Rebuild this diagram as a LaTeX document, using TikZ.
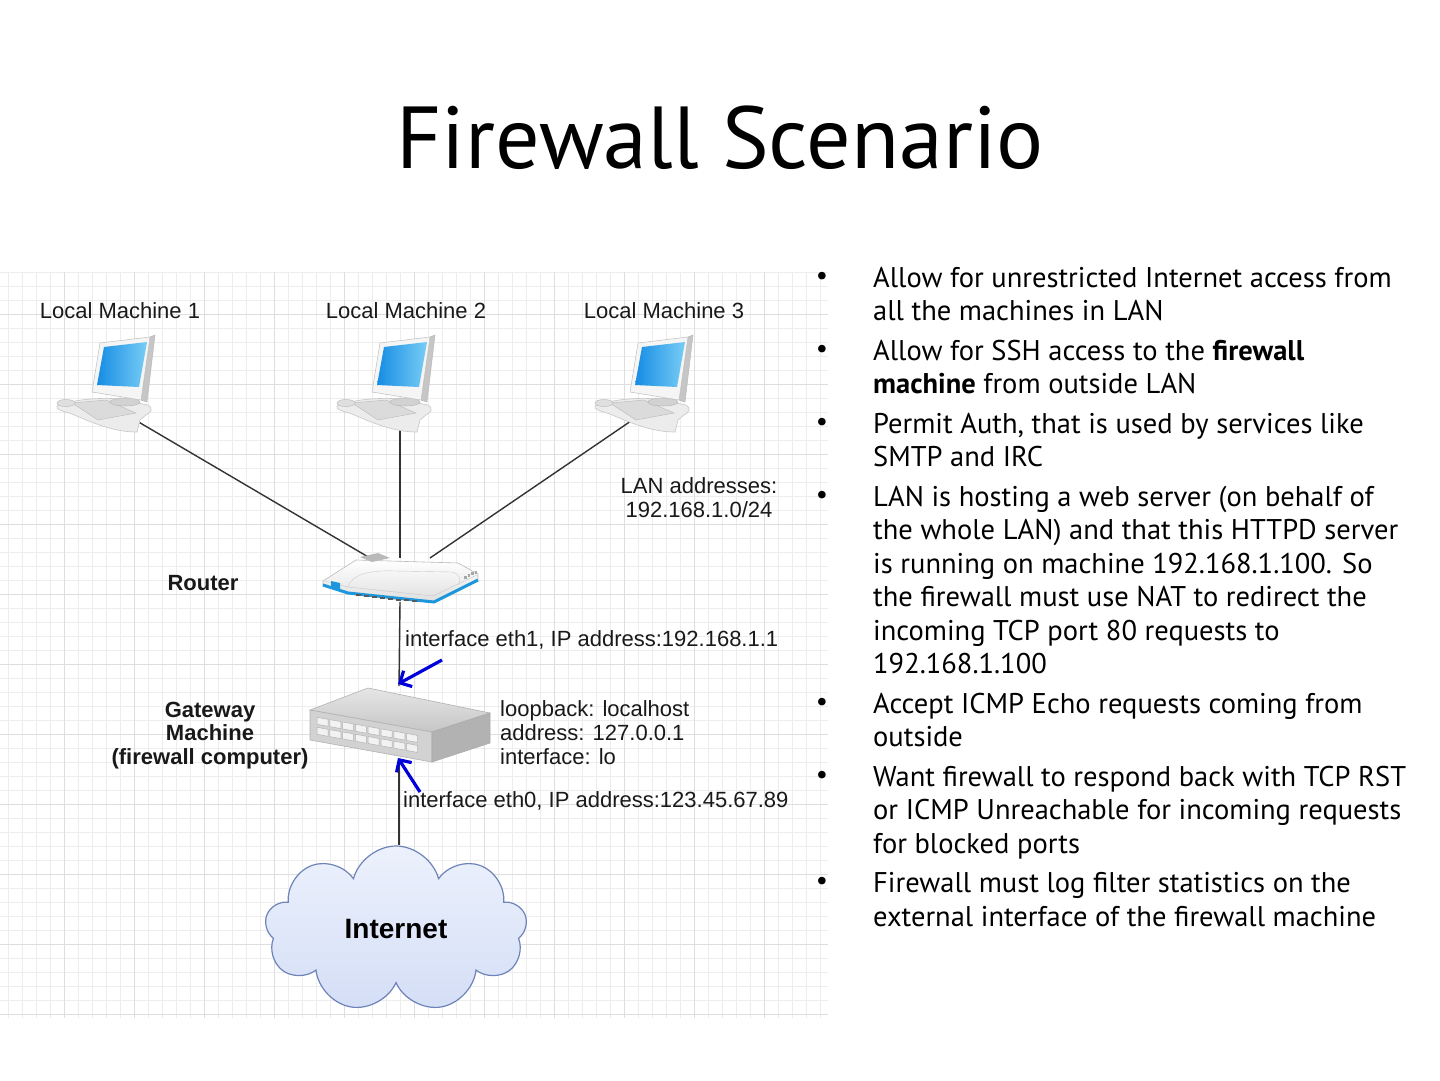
\documentclass[tikz,border=0pt]{standalone}
\usepackage{fontspec}
\setmainfont{Liberation Sans}
\newfontfamily\slidefont{PT Sans}
\usetikzlibrary{shapes.symbols,arrows.meta}

\definecolor{screenblue}{RGB}{22,140,228}
\definecolor{screenlight}{RGB}{120,205,245}
\definecolor{routerblue}{RGB}{30,150,220}
\definecolor{cloudtop}{RGB}{236,241,252}
\definecolor{cloudbottom}{RGB}{212,222,246}
\definecolor{cloudedge}{RGB}{110,132,184}

\tikzset{
  gridline/.style={draw=black!7,line width=0.9pt},
  gridmajor/.style={draw=black!13,line width=0.9pt},
  link/.style={draw=black!80,line width=1.4pt},
  devbox/.style={inner sep=0pt,outer sep=0pt},
  lbl/.style={font=\fontsize{22}{24}\selectfont,text=black!90,inner sep=0pt},
  boldlbl/.style={lbl,font=\fontsize{22}{23.5}\selectfont\bfseries,align=center},
  pointer/.style={draw=blue!85!black,line width=3.2pt,-{Straight Barb[length=9pt,width=18pt]}},
  slidetitle/.style={font=\slidefont\fontsize{88}{90}\selectfont,anchor=base,inner sep=0pt},
  bullettext/.style={font=\slidefont\fontsize{28.5}{33.5}\selectfont,align=left,anchor=base west,inner sep=0pt},
  dot/.style={font=\slidefont\fontsize{27}{30}\selectfont,anchor=base,inner sep=0pt},
}

\begin{document}
\begin{tikzpicture}[x=1pt,y=-1pt]
\useasboundingbox (0,0) rectangle (1440,1080);
\fill[white] (0,0) rectangle (1440,1080);

% grid paper behind the network
\foreach \i in {0,...,58} \draw[gridline] ({8.3+14*\i},272) -- ({8.3+14*\i},1018);
\foreach \i in {0,...,53} \draw[gridline] (0,{272+14*\i}) -- (828,{272+14*\i});
\foreach \i in {0,...,10} \draw[gridmajor] ({64.3+70*\i},272) -- ({64.3+70*\i},1018);
\foreach \i in {0,...,10} \draw[gridmajor] (0,{314+70*\i}) -- (828,{314+70*\i});

\node[slidetitle] (title) at (720,168) {Firewall Scenario};

% anchors of the devices
\foreach \n/\cx/\cy in {1/108/404,2/400/398,3/650/408}
  \node[devbox,minimum width=40pt,minimum height=20pt] (pc\n) at (\cx,\cy) {};
\node[devbox,minimum width=156pt,minimum height=44pt] (router) at (400,580) {};
\node[devbox,minimum width=182pt,minimum height=76pt] (gw) at (399,724) {};

% internet
\node[cloud,cloud puffs=9,aspect=1.5,minimum width=262pt,minimum height=166pt,inner sep=0pt,draw=cloudedge,line width=1.2pt,top color=cloudtop,bottom color=cloudbottom,font=\fontsize{28}{30}\selectfont\bfseries] (inet) at (396,929) {Internet};

% links
\draw[link] (pc1) -- ([xshift=-30pt]router.north);
\draw[link] (pc2) -- (router.north);
\draw[link] (pc3) -- ([xshift=30pt]router.north);
\draw[link] (router.south) -- (gw.north);
\draw[link] (gw.south) -- (gw.south |- inet.north);

% computers
\foreach \dx in {0,280,538} {
\begin{scope}[shift={(\dx,0)}]
\filldraw[fill=gray!15,draw=gray!45,line width=0.6pt] (57,406) .. controls (70,400) and (100,397) .. (118,399) -- (148,405) .. controls (153,408) and (152,412) .. (146,415) -- (140,420) -- (137,432) .. controls (115,432) and (95,424) .. (72,414) .. controls (62,411) and (55,409) .. (57,406) -- cycle;
\filldraw[fill=gray!28,draw=gray!50,line width=0.5pt] (72,403) -- (106,400) -- (136,413) -- (98,420) -- cycle;
\filldraw[fill=gray!25,draw=gray!50,line width=0.5pt] (66,403) ellipse (9pt and 3.5pt);
\filldraw[fill=gray!35,draw=gray!55,line width=0.5pt] (125,402) ellipse (15pt and 4pt);
\filldraw[fill=gray!45,draw=gray!55,line width=0.5pt] (150,337) -- (155,335) -- (147,402) -- (141,400) -- cycle;
\filldraw[fill=gray!8,draw=gray!50,line width=0.5pt] (100,343) -- (150,337) -- (141,400) -- (92,392) -- cycle;
\shade[left color=screenblue,right color=screenlight] (104,347) -- (147,342) -- (139,387) -- (97,385) -- cycle;
\end{scope}
}

% router
\shadedraw[top color=white,bottom color=gray!25,draw=gray!55,line width=0.6pt] (323,581) -- (356,560) -- (458,563) -- (478,574) -- (478,580) -- (434,602) -- (348,593) -- (323,586) -- cycle;
\draw[routerblue,line width=3pt,line join=round] (323,585) -- (348,593) -- (434,602) -- (478,580);
\draw[gray!45] (325,581) -- (348,587) -- (433,596) -- (477,575);
\draw[gray!40] (348,587) .. controls (352,574) and (370,570) .. (395,571) -- (452,572) .. controls (460,574) and (462,580) .. (458,585);
\fill[gray!55] (360,557) -- (378,553) -- (390,558) -- (372,562) -- cycle;
\fill[routerblue] (331,581) -- (340,583) -- (340,589) -- (331,587) -- cycle;
\foreach \k in {0,...,3} \fill[gray!70] ({464+3.5*\k},{579-1.8*\k}) rectangle ++(2.5,-3);
\foreach \k in {0,...,7} \fill[gray!70!black] ({356+8*\k},{594+0.9*\k}) rectangle ++(5,2);

% gateway switch
\shadedraw[top color=gray!20,bottom color=gray!45,draw=gray!60,line width=0.6pt] (310,710) -- (368,688) -- (490,713) -- (432,732) -- cycle;
\filldraw[fill=gray!35,draw=gray!60,line width=0.6pt] (310,710) -- (432,732) -- (432,762) -- (310,740) -- cycle;
\filldraw[fill=gray!60,draw=gray!65,line width=0.6pt] (432,732) -- (490,713) -- (490,743) -- (432,762) -- cycle;
\foreach \k in {0,...,7} \foreach \r in {0,1}
  \filldraw[fill=gray!10,draw=gray!60,line width=0.5pt] ({317+12.8*\k},{717.3+2.3*\k+10*\r}) -- ++(11,2) -- ++(0,7) -- ++(-11,-2) -- cycle;

% pointers to the interfaces
\coordinate (eth1tail) at (442,660);
\coordinate (eth0tail) at (420,792);
\draw[pointer] (eth1tail) -- ([shift={(-1pt,2pt)}]gw.north);
\draw[pointer] (eth0tail) -- ([shift={(-1pt,4pt)}]gw.south);

% labels
\node[lbl,anchor=base] (lm1) at (120,318) {Local Machine 1};
\node[lbl,anchor=base] (lm2) at (406,318) {Local Machine 2};
\node[lbl,anchor=base] (lm3) at (664,318) {Local Machine 3};
\node[lbl,align=center,anchor=base] (lanlbl) at (699,517) {LAN addresses:\\192.168.1.0/24};
\node[boldlbl,anchor=base] (routerlbl) at (203,590) {Router};
\node[boldlbl,anchor=base] (gwlbl) at (210,764) {Gateway\\Machine\\(firewall computer)};
\node[lbl,anchor=base west] (eth1lbl) at (405,646) {interface eth1, IP address:192.168.1.1};
\node[lbl,align=left,anchor=base west] (lolbl) at (500,764) {loopback: localhost\\address: 127.0.0.1\\interface: lo};
\node[lbl,anchor=base west] (eth0lbl) at (403,807) {interface eth0, IP address:123.45.67.89};

% rules
\foreach \n/\y in {1/284,2/357,3/430,4/503,5/710,6/783,7/889.5}
  \node[dot] (d\n) at (822,\y) {•};
\node[bullettext] (b1) at (873,320.5) {Allow for unrestricted Internet access from\\all the machines in LAN};
\node[bullettext] (b2) at (873,393.5) {Allow for SSH access to the \textbf{firewall}\\\textbf{machine} from outside LAN};
\node[bullettext] (b3) at (873,466.5) {Permit Auth, that is used by services like\\SMTP and IRC};
\node[bullettext] (b4) at (873,673.5) {LAN is hosting a web server (on behalf of\\the whole LAN) and that this HTTPD server\\is running on machine 192.168.1.100. So\\the firewall must use NAT to redirect the\\incoming TCP port 80 requests to\\192.168.1.100};
\node[bullettext] (b5) at (873,746.5) {Accept ICMP Echo requests coming from\\outside};
\node[bullettext] (b6) at (873,853) {Want firewall to respond back with TCP RST\\or ICMP Unreachable for incoming requests\\for blocked ports};
\node[bullettext] (b7) at (873,926) {Firewall must log filter statistics on the\\external interface of the firewall machine};
\end{tikzpicture}
\end{document}
